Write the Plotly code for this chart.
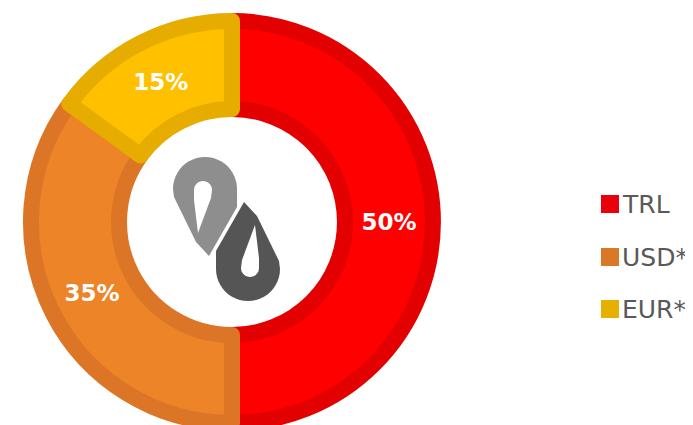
import math
import plotly.graph_objects as go

# ---- data ----
labels = ["TRL", "USD*", "EUR*"]
values = [50, 35, 15]
fill_colors = ["#ff0000", "#ed8428", "#ffc000"]
edge_colors = ["#e30000", "#dc7626", "#e6ad00"]
legend_colors = ["#e8000b", "#d97826", "#e6b000"]

W, H = 693, 425
OFF = 8  # page body margin compensation


def px(x, y):
    return (x - OFF) / W, 1 - (y - OFF) / H


fig = go.Figure()

# pie geometry (page pixels)
cx, cy, R = 232, 222, 201
dx0, dy0 = px(cx - R, cy + R)
dx1, dy1 = px(cx + R, cy - R)
fig.add_trace(go.Pie(
    labels=labels,
    values=values,
    sort=False,
    direction="clockwise",
    rotation=0,
    hole=0.562,
    marker=dict(colors=fill_colors, line=dict(color=edge_colors, width=16)),
    texttemplate="%{percent:.0%}",
    textposition="inside",
    insidetextorientation="horizontal",
    textfont=dict(family="DejaVu Sans", size=23, color="white", weight="bold"),
    domain=dict(x=[dx0, dx1], y=[dy0, dy1]),
    showlegend=False,
    hoverinfo="label+percent",
))


def arc(cxp, cyp, r, a0, a1, n=24):
    pts = []
    for i in range(n + 1):
        a = math.radians(a0 + (a1 - a0) * i / n)
        pts.append((cxp + r * math.cos(a), cyp - r * math.sin(a)))
    return pts


def path_of(pts):
    s = ""
    for i, (x, y) in enumerate(pts):
        X, Y = px(x, y)
        s += ("M" if i == 0 else "L") + f"{X:.5f},{Y:.5f}"
    return s + "Z"


# logo (light drop + rotated dark drop)
outer = [(196, 242), (174, 197), (173, 189)] + arc(205, 189, 32, 180, 0) + [(237, 198), (237, 207), (209, 256)]
hole_pts = arc(203, 190, 9, 180, 0, 16) + [(211, 198), (198, 233), (194, 200)]
ox, oy = 453, 458
rot = lambda pts: [(ox - x, oy - y) for x, y in pts]

shapes = []
shapes.append(dict(type="path", xref="paper", yref="paper", path=path_of(outer),
                   fillcolor="#8e8e8e", line=dict(width=0), layer="above"))
shapes.append(dict(type="path", xref="paper", yref="paper", path=path_of(hole_pts),
                   fillcolor="white", line=dict(width=0), layer="above"))
shapes.append(dict(type="path", xref="paper", yref="paper", path=path_of(rot(outer)),
                   fillcolor="#555555", line=dict(width=0), layer="above"))
shapes.append(dict(type="path", xref="paper", yref="paper", path=path_of(rot(hole_pts)),
                   fillcolor="white", line=dict(width=0), layer="above"))

# custom legend
annotations = []
leg_y = [204, 257, 309]
for lab, col, ly in zip(labels, legend_colors, leg_y):
    x0, y0 = px(601, ly - 9)
    x1, y1 = px(619, ly + 9)
    shapes.append(dict(type="rect", xref="paper", yref="paper", x0=x0, x1=x1, y0=y1, y1=y0,
                       fillcolor=col, line=dict(width=0)))
    tx, ty = px(621, ly)
    annotations.append(dict(xref="paper", yref="paper", x=tx, y=ty, xanchor="left", yanchor="middle",
                            text=lab, showarrow=False, borderpad=0,
                            font=dict(family="DejaVu Sans", size=25, color="#595959")))

fig.update_layout(
    width=W, height=H,
    margin=dict(l=0, r=0, t=0, b=0),
    paper_bgcolor="white",
    plot_bgcolor="white",
    shapes=shapes,
    annotations=annotations,
)

fig.write_html("out.html")
